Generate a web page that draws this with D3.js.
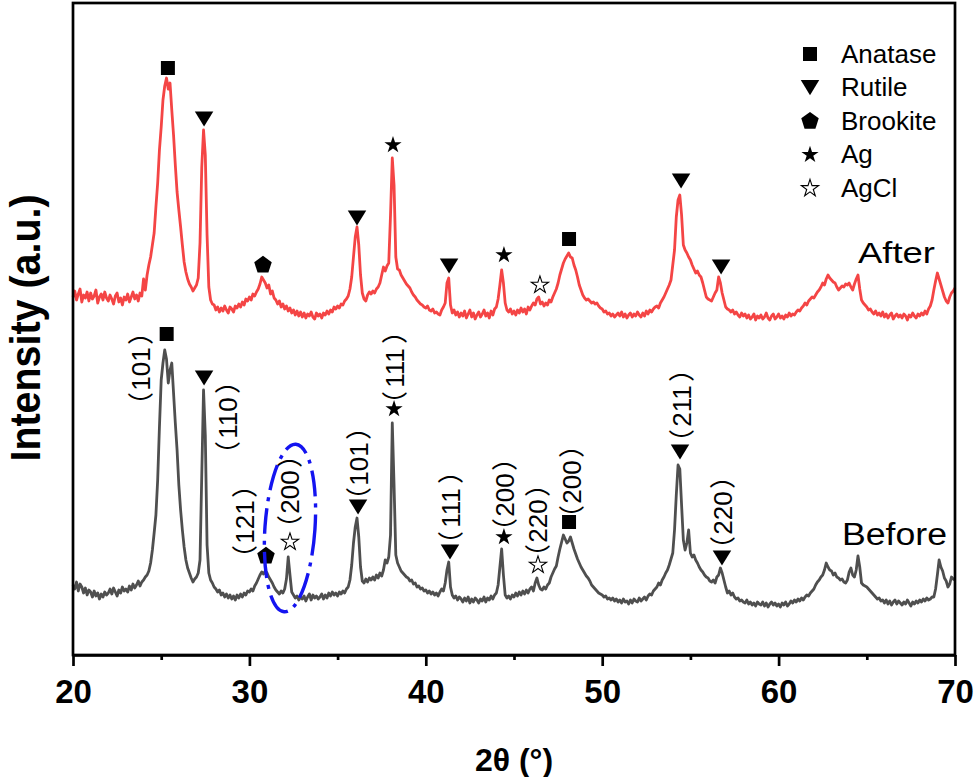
<!DOCTYPE html>
<html>
<head>
<meta charset="utf-8">
<script src="https://cdn.jsdelivr.net/npm/d3@7"></script>
<style>
  body { margin: 0; background: #fff; }
  svg { display: block; }
</style>
</head>
<body>
<svg id="chart" width="975" height="777"></svg>
<script>
// scan settings: 2theta from 20 deg, one reading every 0.1 deg
const scanStart = 20, scanStep = 0.1;

// sample after reaction (red)
const afterCounts = [
  358, 364, 355, 361, 366, 353, 360, 357, 363, 354,
  362, 356, 359, 365, 352, 358, 361, 355, 363, 357,
  354, 360, 356, 351, 359, 362, 353, 357, 350, 358,
  355, 361, 353, 358, 363, 356, 360, 354, 362, 359,
  376, 365, 380, 390, 398, 410, 422, 448, 472, 505,
  528, 555, 569, 577, 566, 572, 545, 520, 490, 463,
  445, 428, 410, 393, 383, 376, 371, 368, 364, 367,
  370, 377, 412, 488, 525, 500, 420, 368, 355, 351,
  350, 345, 348, 343, 347, 344, 349, 345, 342, 348,
  346, 343, 349, 347, 351, 348, 353, 350, 356, 354,
  358, 355, 361, 359, 363, 366, 371, 378, 375, 372,
  367, 370, 361, 364, 357, 355, 351, 354, 348, 351,
  346, 349, 344, 347, 342, 345, 340, 344, 339, 343,
  338, 342, 337, 341, 339, 343, 338, 336, 342, 339,
  341, 337, 342, 340, 344, 341, 345, 343, 348, 346,
  349, 347, 351, 350, 354, 356, 359, 366, 378, 398,
  418, 428, 410, 380, 362, 356, 354, 360, 363, 361,
  364, 362, 366, 368, 372, 380, 388, 384, 389, 392,
  440, 497, 470, 398, 386, 385, 380, 377, 374, 371,
  369, 367, 363, 360, 358, 355, 353, 351, 350, 348,
  347, 349, 345, 344, 346, 342, 343, 341, 340, 345,
  348, 352, 372, 377, 350, 342, 345, 340, 343, 338,
  342, 339, 344, 337, 341, 345, 338, 342, 336, 340,
  343, 338, 341, 345, 339, 342, 337, 344, 340, 346,
  348, 356, 370, 385, 372, 352, 345, 343, 346, 341,
  344, 340, 345, 342, 347, 343, 346, 341, 348, 345,
  349, 352, 350, 356, 358, 351, 353, 349, 352, 350,
  355, 353, 358, 362, 366, 372, 380, 386, 392, 396,
  399, 402, 398, 397, 390, 385, 378, 370, 365, 360,
  357, 355, 356, 354, 352, 353, 351, 352, 349, 347,
  346, 343, 344, 341, 342, 339, 341, 338, 340, 342,
  339, 343, 338, 341, 337, 340, 342, 338, 341, 339,
  343, 340, 338, 342, 339, 344, 341, 345, 343, 346,
  348, 349, 347, 352, 355, 358, 362, 366, 370, 375,
  390, 405, 438, 455, 460, 440, 410, 405, 402, 398,
  395, 390, 386, 382, 384, 380, 378, 372, 365, 358,
  356, 355, 354, 358, 362, 365, 378, 372, 362, 355,
  348, 346, 345, 343, 345, 341, 343, 340, 338, 342,
  339, 341, 337, 340, 336, 338, 341, 335, 339, 337,
  340, 336, 338, 342, 337, 335, 339, 341, 336, 338,
  341, 337, 339, 336, 340, 338, 342, 339, 341, 340,
  343, 345, 344, 347, 349, 352, 350, 354, 356, 358,
  357, 360, 363, 365, 368, 372, 370, 376, 380, 377,
  375, 373, 372, 368, 365, 367, 369, 368, 371, 370,
  372, 368, 365, 371, 376, 380, 366, 355, 352, 350,
  348, 345, 346, 343, 341, 344, 340, 342, 339, 343,
  338, 341, 337, 340, 342, 336, 339, 341, 338, 340,
  337, 341, 339, 335, 340, 338, 342, 339, 337, 341,
  339, 342, 340, 344, 341, 346, 349, 355, 365, 374,
  382, 376, 370, 364, 358, 354, 352, 358, 362, 364,
  367
];

// sample before reaction (grey)
const beforeCounts = [
  70, 66, 73, 64, 71, 68, 62, 67, 60, 65,
  63, 58, 64, 59, 62, 56, 61, 58, 63, 60,
  62, 66, 61, 67, 63, 59, 65, 62, 68, 64,
  66, 63, 69, 65, 71, 67, 70, 74, 69, 73,
  75, 78, 80, 84, 92, 105, 122, 140, 175, 228,
  275, 292, 305, 296, 272, 285, 292, 262, 232, 205,
  170, 145, 125, 108, 95, 87, 82, 77, 73, 76,
  78, 82, 95, 180, 265, 220, 110, 82, 75, 72,
  68, 66, 63, 65, 60, 62, 58, 61, 57, 60,
  56, 59, 55, 60, 57, 61, 58, 62, 60, 64,
  63, 66, 64, 69, 72, 76, 80, 83, 81, 84,
  82, 78, 75, 72, 68, 65, 63, 61, 64, 62,
  66, 76, 98, 80, 63, 60, 57, 59, 55, 58,
  56, 59, 54, 58, 61, 55, 60, 57, 59, 56,
  58, 61, 56, 60, 57, 62, 59, 63, 60, 62,
  59, 63, 61, 64, 62, 66, 68, 75, 90, 112,
  128, 137, 118, 88, 74, 72, 76, 73, 77, 75,
  78, 75, 80, 77, 82, 79, 85, 95, 92, 98,
  120, 232, 170, 100, 92, 88, 84, 82, 80, 78,
  77, 74, 75, 71, 72, 68, 69, 66, 67, 64,
  65, 62, 64, 61, 63, 60, 62, 59, 63, 66,
  64, 72, 85, 93, 68, 60, 57, 59, 55, 58,
  56, 53, 57, 54, 58, 52, 56, 53, 57, 55,
  52, 56, 54, 58, 53, 57, 55, 59, 56, 60,
  62, 70, 88, 106, 80, 60, 57, 59, 56, 60,
  58, 62, 59, 63, 60, 64, 61, 65, 62, 66,
  68, 64, 72, 77, 70, 66, 65, 68, 66, 70,
  72, 78, 82, 86, 89, 98, 106, 113, 120, 116,
  112, 114, 118, 112, 106, 101, 96, 92, 88, 85,
  82, 79, 77, 74, 70, 68, 66, 64, 62, 61,
  60, 58, 59, 56, 57, 55, 57, 54, 56, 53,
  55, 52, 56, 53, 54, 51, 55, 52, 56, 54,
  53, 57, 54, 56, 58, 55, 59, 61, 60, 64,
  66, 68, 72, 70, 75, 78, 82, 85, 90, 96,
  102, 125, 160, 190, 186, 150, 115, 105, 112, 125,
  102, 98, 100, 95, 92, 88, 85, 83, 80, 78,
  77, 74, 73, 75, 72, 78, 80, 87, 82, 75,
  68, 62, 64, 60, 62, 58, 56, 57, 54, 55,
  53, 52, 55, 51, 53, 50, 52, 49, 53, 51,
  50, 53, 49, 52, 48, 51, 53, 50, 52, 49,
  51, 48, 52, 50, 53, 49, 51, 54, 52, 55,
  53, 56, 54, 57, 55, 58, 60, 59, 62, 64,
  66, 70, 73, 75, 78, 80, 85, 92, 88, 85,
  84, 80, 82, 78, 77, 75, 76, 73, 72, 75,
  83, 87, 80, 78, 85, 99, 88, 72, 70, 69,
  68, 66, 64, 62, 60, 58, 56, 57, 54, 55,
  52, 55, 51, 54, 50, 53, 55, 51, 54, 52,
  50, 53, 51, 55, 52, 49, 53, 51, 54, 52,
  55, 53, 56, 54, 57, 55, 56, 58, 58, 66,
  80, 95, 88, 84, 77, 74, 68, 71, 78, 76,
  75
];

const xTicks = [20, 30, 40, 50, 60, 70];
const xMinorTicks = [25, 35, 45, 55, 65];
const phases = ["Anatase", "Rutile", "Brookite", "Ag", "AgCl"];

// peak markers: [2theta, intensity, phase]
const afterPeaks = [
  [25.38, 587, "Anatase"], [27.43, 536, "Rutile"], [30.77, 390, "Brookite"],
  [36.10, 437, "Rutile"], [38.14, 510, "Ag"], [41.32, 389, "Rutile"],
  [44.43, 400, "Ag"], [46.47, 370, "AgCl"], [48.12, 416, "Anatase"],
  [54.47, 474, "Rutile"], [56.74, 388, "Rutile"]
];
const beforePeaks = [
  [25.31, 321, "Anatase"], [27.43, 277, "Rutile"], [30.94, 99, "Brookite"],
  [32.30, 113, "AgCl"], [36.16, 148, "Rutile"], [38.20, 246, "Ag"],
  [41.37, 103, "Rutile"], [44.43, 118, "Ag"], [46.36, 90, "AgCl"],
  [48.12, 133, "Anatase"], [54.41, 203, "Rutile"], [56.79, 97, "Rutile"]
];

// Miller index labels on the "before" pattern: [hkl, 2theta, intensity]
const hklLabels = [
  ["101", 23.84, 286], ["110", 28.79, 237], ["121", 29.75, 133],
  ["200", 32.30, 163], ["101", 36.21, 191], ["111", 38.25, 287],
  ["111", 41.43, 147], ["200", 44.49, 160], ["220", 46.36, 134],
  ["200", 48.29, 173], ["211", 54.52, 249], ["220", 56.85, 142]
];

// highlighted AgCl (200) reflection
const agclRing = [32.30, 127];

const svg = d3.select("#chart");
const plotL = 73, plotR = 955, plotT = 3, plotB = 655;
const font = "'Liberation Sans', Arial, Helvetica, sans-serif";
const cjk = "'Noto Sans CJK SC', 'Noto Sans CJK JP', sans-serif";

const x = d3.scaleLinear().domain([20, 70]).range([plotL, plotR]);
const y = d3.scaleLinear().domain([0, 652]).range([plotB, plotT]);

const line = d3.line()
  .x((d, i) => x(scanStart + i * scanStep))
  .y(d => y(d));

svg.append("path").datum(beforeCounts)
  .attr("d", line).attr("fill", "none")
  .attr("stroke", "#4f4f4f").attr("stroke-width", 2.8)
  .attr("stroke-linejoin", "round");

svg.append("path").datum(afterCounts)
  .attr("d", line).attr("fill", "none")
  .attr("stroke", "#f44545").attr("stroke-width", 2.8)
  .attr("stroke-linejoin", "round");

// marker shapes
const downTriangle = {
  draw(ctx, w) {
    const h = w * 0.82;
    ctx.moveTo(-w / 2, -h / 2);
    ctx.lineTo(w / 2, -h / 2);
    ctx.lineTo(0, h / 2);
    ctx.closePath();
  }
};
const pentagon = {
  draw(ctx, r) {
    for (let i = 0; i < 5; i++) {
      const a = -Math.PI / 2 + i * 2 * Math.PI / 5;
      if (i === 0) ctx.moveTo(r * Math.cos(a), r * Math.sin(a));
      else ctx.lineTo(r * Math.cos(a), r * Math.sin(a));
    }
    ctx.closePath();
  }
};

function shapePath(phase) {
  if (phase === "Anatase") return d3.symbol(d3.symbolSquare, 196)();
  if (phase === "Rutile") return d3.symbol(downTriangle, 18.5)();
  if (phase === "Brookite") return d3.symbol(pentagon, 9.2)();
  return d3.symbol(d3.symbolStar, 92)();
}

function drawMarker(g, phase) {
  g.append("path")
    .attr("d", shapePath(phase))
    .attr("fill", phase === "AgCl" ? "#fff" : "#000")
    .attr("stroke", phase === "AgCl" ? "#000" : "none")
    .attr("stroke-width", 1.1);
}

[afterPeaks, beforePeaks].forEach(set => {
  set.forEach(d => {
    const g = svg.append("g").attr("transform", `translate(${x(d[0])},${y(d[1])})`);
    drawMarker(g, d[2]);
  });
});

// hkl labels, rotated, with full-width brackets
const hkl = svg.selectAll(".hkl")
  .data(hklLabels)
  .enter().append("g")
  .attr("class", "hkl")
  .attr("transform", d => `translate(${x(d[1])},${y(d[2])}) rotate(-90)`);
hkl.append("text")
  .attr("text-anchor", "middle").attr("dy", "0.36em")
  .attr("font-family", font).attr("font-size", 26)
  .text(d => d[0]);
hkl.append("text")
  .attr("x", -23).attr("text-anchor", "end").attr("dy", "0.36em")
  .attr("font-family", cjk).attr("font-size", 26)
  .text("（");
hkl.append("text")
  .attr("x", 24).attr("text-anchor", "start").attr("dy", "0.36em")
  .attr("font-family", cjk).attr("font-size", 26)
  .text("）");

// dash-dot ellipse around the AgCl reflection
svg.append("ellipse")
  .attr("transform", `translate(${x(agclRing[0])},${y(agclRing[1])}) rotate(4)`)
  .attr("rx", 25).attr("ry", 84)
  .attr("fill", "none")
  .attr("stroke", "#1414f0")
  .attr("stroke-width", 3.4)
  .attr("stroke-dasharray", "26 7 4 7");

// frame
svg.append("rect")
  .attr("x", plotL).attr("y", plotT)
  .attr("width", plotR - plotL).attr("height", plotB - plotT)
  .attr("fill", "none").attr("stroke", "#000").attr("stroke-width", 2.7);

// x axis
const xAxis = svg.append("g")
  .attr("transform", `translate(0,${plotB})`)
  .call(d3.axisBottom(x).tickValues(xTicks).tickFormat(d3.format("d")).tickSize(11).tickSizeOuter(0));
xAxis.select(".domain").attr("stroke-width", 2.7);
xAxis.selectAll(".tick line").attr("stroke-width", 2.7);
xAxis.selectAll(".tick text")
  .attr("y", 48).attr("dy", null)
  .attr("font-family", font).attr("font-weight", "bold")
  .attr("font-size", 33).attr("fill", "#000");

const xMinor = svg.append("g")
  .attr("transform", `translate(0,${plotB})`)
  .call(d3.axisBottom(x).tickValues(xMinorTicks).tickFormat("").tickSize(5).tickSizeOuter(0));
xMinor.select(".domain").remove();
xMinor.selectAll(".tick line").attr("stroke-width", 2.7);

// axis titles
svg.append("text")
  .attr("x", (plotL + plotR) / 2).attr("y", 771)
  .attr("text-anchor", "middle")
  .attr("font-family", font).attr("font-weight", "bold")
  .attr("font-size", 32)
  .text("2θ (°)");

svg.append("text")
  .attr("transform", "translate(40,328) rotate(-90)")
  .attr("text-anchor", "middle")
  .attr("font-family", font).attr("font-weight", "bold")
  .attr("font-size", 43)
  .attr("textLength", 267).attr("lengthAdjust", "spacingAndGlyphs")
  .text("Intensity (a.u.)");

// series names
svg.append("text")
  .attr("x", 858).attr("y", 263)
  .attr("font-family", font).attr("font-size", 30)
  .attr("textLength", 77).attr("lengthAdjust", "spacingAndGlyphs")
  .text("After");
svg.append("text")
  .attr("x", 842).attr("y", 545)
  .attr("font-family", font).attr("font-size", 31)
  .attr("textLength", 105).attr("lengthAdjust", "spacingAndGlyphs")
  .text("Before");

// legend
const legend = svg.append("g").attr("transform", "translate(810,54)");
phases.forEach((p, i) => {
  const row = legend.append("g").attr("transform", `translate(0,${i * 33.6})`);
  drawMarker(row, p);
  row.append("text")
    .attr("x", 31).attr("y", 8.5)
    .attr("font-family", font).attr("font-size", 26)
    .text(p);
});
</script>
</body>
</html>
